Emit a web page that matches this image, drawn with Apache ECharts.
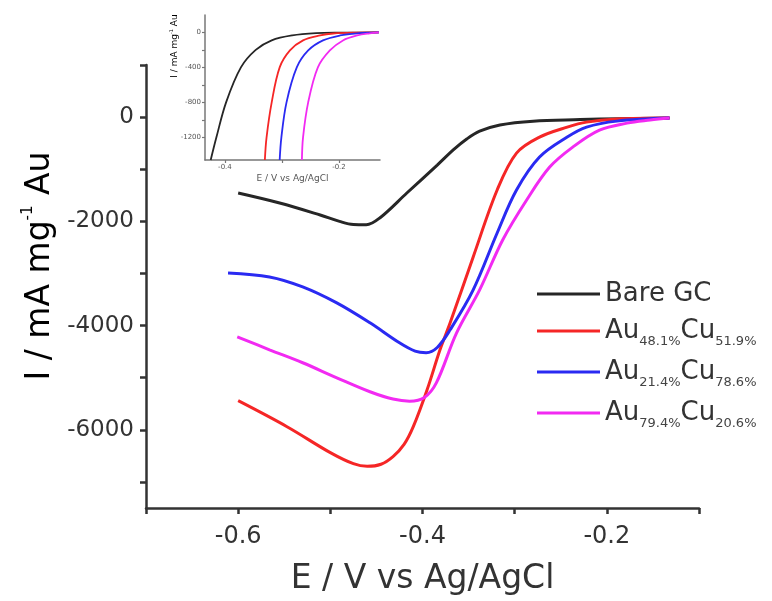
<!DOCTYPE html>
<html>
<head>
<meta charset="utf-8">
<script src="https://cdn.jsdelivr.net/npm/echarts@6/dist/echarts.min.js"></script>
<style>
html, body { margin: 0; padding: 0; background: #fff; }
#chart { width: 772px; height: 601px; }
</style>
</head>
<body>
<div id="chart"></div>
<script>
// Linear sweep voltammograms: potential E (V vs Ag/AgCl) against mass activity I (mA mg^-1 Au)
const seriesNames = ['Bare GC', 'Au48.1%Cu51.9%', 'Au21.4%Cu78.6%', 'Au79.4%Cu20.6%'];
const seriesColors = ['#262626', '#f52626', '#2a2af2', '#f22af2'];

// Main panel
const bareE = [-0.600, -0.555, -0.511, -0.490, -0.475, -0.461, -0.446, -0.417, -0.384, -0.366, -0.352, -0.338, -0.316, -0.280, -0.229, -0.186, -0.132];
const bareI = [-1456, -1648, -1878, -2000, -2060, -2065, -1930, -1456, -920, -620, -420, -270, -150, -77, -48, -29, -19];

const au48E = [-0.600, -0.547, -0.500, -0.475, -0.460, -0.445, -0.432, -0.420, -0.410, -0.395, -0.381, -0.370, -0.345, -0.319, -0.298, -0.273, -0.243, -0.222, -0.189, -0.132];
const au48I = [-5441, -5940, -6438, -6650, -6700, -6660, -6514, -6280, -5940, -5231, -4464, -3947, -2682, -1399, -690, -383, -192, -96, -38, -19];

const au21E = [-0.611, -0.566, -0.530, -0.493, -0.457, -0.425, -0.408, -0.396, -0.384, -0.370, -0.345, -0.319, -0.298, -0.273, -0.243, -0.222, -0.189, -0.132];
const au21I = [-2989, -3066, -3257, -3564, -3947, -4330, -4490, -4520, -4420, -4081, -3315, -2223, -1399, -766, -383, -192, -77, -19];

const au79E = [-0.601, -0.566, -0.530, -0.493, -0.457, -0.432, -0.414, -0.398, -0.385, -0.363, -0.338, -0.313, -0.287, -0.262, -0.237, -0.208, -0.178, -0.153, -0.132];
const au79I = [-4215, -4464, -4713, -5001, -5269, -5410, -5450, -5380, -5100, -4139, -3315, -2357, -1590, -958, -575, -249, -115, -57, -19];

// Inset: onset region
const inBareE = [-0.425, -0.415, -0.398, -0.372, -0.346, -0.318, -0.282, -0.240, -0.200, -0.130];
const inBareI = [-1460, -1200, -800, -400, -200, -90, -34, -8, -2, 0];
const inAu48E = [-0.330, -0.327, -0.318, -0.304, -0.286, -0.263, -0.233, -0.210, -0.170, -0.130];
const inAu48I = [-1460, -1200, -800, -400, -206, -91, -34, -12, -2, 0];
const inAu21E = [-0.304, -0.301, -0.292, -0.274, -0.254, -0.228, -0.198, -0.168, -0.130];
const inAu21I = [-1460, -1200, -800, -400, -206, -91, -34, -10, 0];
const inAu79E = [-0.265, -0.263, -0.254, -0.237, -0.216, -0.193, -0.168, -0.146, -0.130];
const inAu79I = [-1460, -1200, -800, -400, -206, -91, -34, -10, 0];

// Axis ticks and labels
const mainXTicks = [-0.7, -0.6, -0.5, -0.4, -0.3, -0.2, -0.1];
const mainXLabels = [-0.6, -0.4, -0.2];
const mainYTicks = [1000, 0, -1000, -2000, -3000, -4000, -5000, -6000, -7000];
const mainYLabels = [0, -2000, -4000, -6000];
const insetXTicks = [-0.4, -0.3, -0.2];
const insetXLabels = [-0.4, -0.2];
const insetYTicks = [0, -200, -400, -600, -800, -1000, -1200];
const insetYLabels = [0, -400, -800, -1200];

const FONT = 'DejaVu Sans';
const zip = (xs, ys) => xs.map((x, i) => [x, ys[i]]);

const legendRich = {
  a: { fontFamily: FONT, fontSize: 26, color: '#333', lineHeight: 30 },
  s: { fontFamily: FONT, fontSize: 13, color: '#444', lineHeight: 34, verticalAlign: 'bottom' }
};
const legendText = {
  'Bare GC': '{a|Bare GC}',
  'Au48.1%Cu51.9%': '{a|Au}{s|48.1%}{a|Cu}{s|51.9%}',
  'Au21.4%Cu78.6%': '{a|Au}{s|21.4%}{a|Cu}{s|78.6%}',
  'Au79.4%Cu20.6%': '{a|Au}{s|79.4%}{a|Cu}{s|20.6%}'
};

function lineSeries(i, data, xIdx, width) {
  return {
    name: seriesNames[i],
    type: 'line',
    xAxisIndex: xIdx,
    yAxisIndex: xIdx,
    data: data,
    smooth: 0.35,
    symbol: 'none',
    clip: true,
    lineStyle: { color: seriesColors[i], width: width },
    itemStyle: { color: seriesColors[i] },
    z: 3 + i
  };
}

const chart = echarts.init(document.getElementById('chart'), null, { renderer: 'canvas' });

chart.setOption({
  animation: false,
  backgroundColor: '#fff',
  grid: [
    { left: 146, right: 73, top: 65, bottom: 92, containLabel: false },
    { left: 205, right: 392, top: 15, bottom: 441, containLabel: false }
  ],
  xAxis: [
    {
      gridIndex: 0, type: 'value', min: -0.7, max: -0.1,
      name: 'E / V vs Ag/AgCl', nameLocation: 'middle', nameGap: 55,
      nameTextStyle: { fontFamily: FONT, fontSize: 33, color: '#333' },
      axisLine: { onZero: false, lineStyle: { color: '#333', width: 2.5 } },
      axisTick: { customValues: mainXTicks, length: 6, lineStyle: { color: '#333', width: 2.5 } },
      axisLabel: { customValues: mainXLabels, margin: 17, fontFamily: FONT, fontSize: 24, color: '#333',
                   formatter: v => v.toFixed(1) },
      splitLine: { show: false }
    },
    {
      gridIndex: 1, type: 'value', min: -0.435, max: -0.128,
      name: 'E / V vs Ag/AgCl', nameLocation: 'middle', nameGap: 14,
      nameTextStyle: { fontFamily: FONT, fontSize: 9, color: '#555' },
      axisLine: { onZero: false, lineStyle: { color: '#777', width: 1.5 } },
      axisTick: { customValues: insetXTicks, length: 3, lineStyle: { color: '#777', width: 1.2 } },
      axisLabel: { customValues: insetXLabels, margin: 4, fontFamily: FONT, fontSize: 7, color: '#555',
                   formatter: v => v.toFixed(1) },
      splitLine: { show: false }
    }
  ],
  yAxis: [
    {
      gridIndex: 0, type: 'value', min: -7500, max: 1000,
      axisLine: { onZero: false, lineStyle: { color: '#333', width: 2.5 } },
      axisTick: { customValues: mainYTicks, length: 6, lineStyle: { color: '#333', width: 2.5 } },
      axisLabel: { customValues: mainYLabels, margin: 12, fontFamily: FONT, fontSize: 23, color: '#333',
                   formatter: v => String(v) },
      splitLine: { show: false }
    },
    {
      gridIndex: 1, type: 'value', min: -1460, max: 200,
      axisLine: { onZero: false, lineStyle: { color: '#777', width: 1.5 } },
      axisTick: { customValues: insetYTicks, length: 3, lineStyle: { color: '#777', width: 1.2 } },
      axisLabel: { customValues: insetYLabels, margin: 4, fontFamily: FONT, fontSize: 7, color: '#555',
                   formatter: v => String(v) },
      splitLine: { show: false }
    }
  ],
  legend: {
    data: seriesNames,
    orient: 'vertical',
    left: 532,
    top: 276,
    itemWidth: 63,
    itemHeight: 14,
    itemGap: 11,
    icon: 'path://M0,6 L63,6 L63,9 L0,9 Z',
    textStyle: { fontFamily: FONT, fontSize: 26, color: '#333', rich: legendRich },
    formatter: name => legendText[name],
    selectedMode: false
  },
  graphic: [
    {
      type: 'text', x: 40, y: 266, rotation: Math.PI / 2,
      style: {
        text: '{a|I / mA mg}{sup|-1}{a| Au}',
        align: 'center', verticalAlign: 'middle',
        rich: {
          a: { fontFamily: FONT, fontSize: 33, color: '#333', lineHeight: 38 },
          sup: { fontFamily: FONT, fontSize: 15, color: '#333', lineHeight: 38, verticalAlign: 'top' }
        }
      }
    },
    {
      type: 'text', x: 175, y: 46, rotation: Math.PI / 2,
      style: {
        text: '{a|I / mA mg}{sup|-1}{a| Au}',
        align: 'center', verticalAlign: 'middle',
        rich: {
          a: { fontFamily: FONT, fontSize: 9, color: '#555', lineHeight: 11 },
          sup: { fontFamily: FONT, fontSize: 5, color: '#555', lineHeight: 11, verticalAlign: 'top' }
        }
      }
    }
  ],
  series: [
    lineSeries(0, zip(bareE, bareI), 0, 3),
    lineSeries(1, zip(au48E, au48I), 0, 3),
    lineSeries(2, zip(au21E, au21I), 0, 3),
    lineSeries(3, zip(au79E, au79I), 0, 3),
    lineSeries(0, zip(inBareE, inBareI), 1, 1.8),
    lineSeries(1, zip(inAu48E, inAu48I), 1, 1.8),
    lineSeries(2, zip(inAu21E, inAu21I), 1, 1.8),
    lineSeries(3, zip(inAu79E, inAu79I), 1, 1.8)
  ]
});
</script>
</body>
</html>
